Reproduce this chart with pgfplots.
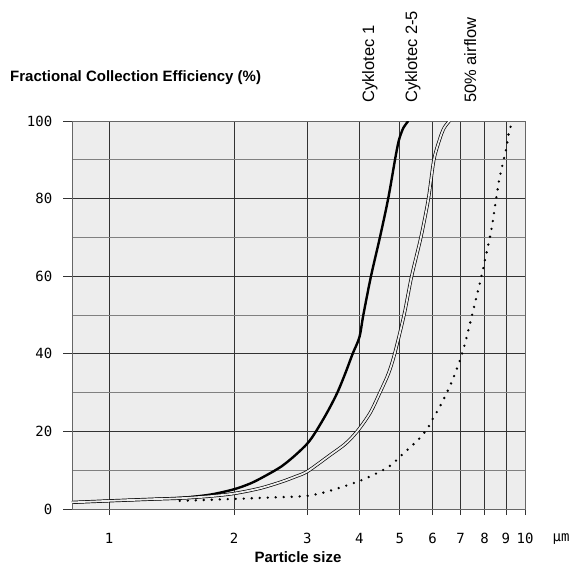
\documentclass[border=0pt]{standalone}
\usepackage{fontspec}
\setmainfont{Liberation Sans}
\newfontfamily\monof{DejaVu Sans Mono}
\usepackage{pgfplots}
\pgfplotsset{compat=1.18}
\definecolor{bgc}{RGB}{237,237,237}
\begin{document}
\begin{tikzpicture}
\useasboundingbox (0,0) rectangle (571pt,566pt);
\begin{axis}[
  at={(72pt,57pt)}, anchor=south west, scale only axis,
  width=453pt, height=388pt,
  xmode=log, xmin=0.815, xmax=10, ymin=0, ymax=100,
  xtick={1,2,3,4,5,6,7,8,9,10},
  xticklabels={1,2,3,4,5,6,7,8,9,10},
  ytick={0,20,40,60,80,100},
  yticklabels={0,20,40,60,80,100},
  minor ytick={10,30,50,70,90},
  grid=both,
  major grid style={black!80, line width=0.8pt},
  minor grid style={black!50, line width=0.8pt},
  axis background/.style={fill=bgc},
  axis line style={black!60, line width=0.8pt},
  tick align=outside, xtick pos=bottom, ytick pos=left,
  tick style={black!80, line width=0.8pt},
  xtick style={/pgfplots/major tick length=6pt},
  ytick style={/pgfplots/major tick length=9pt},
  minor tick length=0pt,
  ticklabel style={font=\monof\fontsize{14}{14}\selectfont},
  xticklabel style={anchor=north, yshift=-16pt},
  yticklabel style={anchor=east, xshift=-12pt},
  /pgf/number format/assume math mode=true,
]
\addplot[black, line width=2.4pt, smooth] coordinates {
(0.815,1.7) (1,2.1) (1.25,2.5) (1.5,2.9) (1.75,3.7) (2,5.1) (2.2,6.7) (2.4,8.8)
(2.6,11.0) (2.8,13.8) (3.0,16.9) (3.145,20) (3.35,25) (3.54,30) (3.70,35)
(3.853,40) (4.0,44.3) (4.087,50) (4.264,60) (4.48,70) (4.69,80) (4.87,90)
(4.95,94) (5.0,95.8) (5.1,98.2) (5.24,100)
};
\addplot[black, line width=0.7pt, double=bgc, double distance=1.8pt, smooth] coordinates {
(0.815,1.7) (1,2.1) (1.25,2.5) (1.5,2.8) (1.75,3.3) (2,4.0) (2.3,5.3) (2.58,6.9)
(2.8,8.3) (3.0,9.7) (3.4,13.9) (3.7,16.8) (3.95,20) (4.24,24.7) (4.48,30)
(4.70,35) (4.86,40) (5.12,50) (5.34,60) (5.62,70) (5.86,80) (6.04,90)
(6.25,95.6) (6.39,98.2) (6.58,100)
};
\addplot[black, line width=2.6pt, line cap=round, dash pattern=on 0pt off 8pt, smooth] coordinates {
(1.48,2.1) (2,2.6) (2.5,3.0) (3.0,3.4) (3.4,4.7) (4.06,7.5) (4.69,10.8)
(5.03,13.7) (5.59,18.3) (5.88,21.4) (6.03,23.7) (6.18,25.5) (6.45,29.4)
(6.71,33.5) (6.98,38.4) (7.18,42.8) (7.34,46.9) (7.58,53) (7.84,59.5)
(8.07,65.7) (8.3,71.9) (8.47,78) (8.66,84.5) (8.85,89.2) (9.03,93.3)
(9.18,97.9) (9.4,99.7)
};
\end{axis}
\node[anchor=base west, inner sep=0pt, font=\bfseries\fontsize{15}{15}\selectfont] at (10pt,484pt) {Fractional Collection Efficiency (\%)};
\node[anchor=base, inner sep=0pt, font=\bfseries\fontsize{15}{15}\selectfont] at (298pt,4pt) {Particle size};
\node[anchor=base, inner sep=0pt, font=\monof\fontsize{14}{14}\selectfont] at (561pt,24.3pt) {μm};
\node[anchor=base west, rotate=90, inner sep=0pt, font=\fontsize{16.5}{16.5}\selectfont] at (374pt,463pt) {Cyklotec 1};
\node[anchor=base west, rotate=90, inner sep=0pt, font=\fontsize{16.5}{16.5}\selectfont] at (417pt,463pt) {Cyklotec 2-5};
\node[anchor=base west, rotate=90, inner sep=0pt, font=\fontsize{16.5}{16.5}\selectfont] at (476pt,463pt) {50\% airflow};
\end{tikzpicture}
\end{document}
